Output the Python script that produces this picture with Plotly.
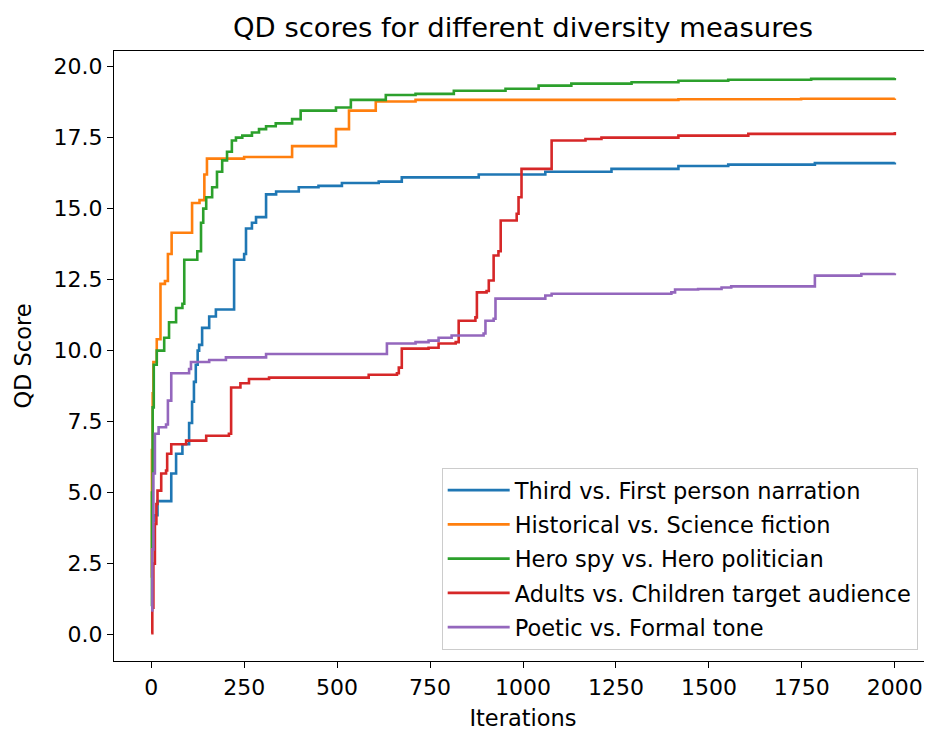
import plotly.graph_objects as go

# ---- data ----
series_names = [
    "Third vs. First person narration",
    "Historical vs. Science fiction",
    "Hero spy vs. Hero politician",
    "Adults vs. Children target audience",
    "Poetic vs. Formal tone",
]
colors = ["#1f77b4", "#ff7f0e", "#2ca02c", "#d62728", "#9467bd"]

third_iter = [0, 3, 8, 17, 54, 67, 84, 102, 110, 115, 120, 125, 129, 137, 156, 174,
              223, 250, 255, 271, 282, 309, 336, 397, 450, 513, 612, 674, 881, 1060,
              1238, 1418, 1552, 1785, 2000]
third_qd = [3.5, 4.0, 4.2, 4.7, 5.67, 6.37, 6.7, 7.45, 8.2, 8.9, 9.5, 10.0, 10.2, 10.8,
            11.2, 11.45, 13.2, 13.4, 14.3, 14.5, 14.7, 15.5, 15.6, 15.75, 15.8, 15.9,
            15.95, 16.1, 16.2, 16.3, 16.4, 16.5, 16.55, 16.6, 16.62]

hist_iter = [0, 2, 4, 6, 15, 25, 37, 45, 55, 110, 130, 143, 150, 250, 379, 497, 532,
             604, 711, 1418, 1748, 2000]
hist_qd = [2.0, 6.5, 8.5, 9.6, 10.4, 12.35, 12.45, 13.4, 14.15, 15.2, 15.3, 16.2, 16.76,
           16.82, 17.2, 17.8, 18.45, 18.77, 18.83, 18.85, 18.87, 18.88]

hero_iter = [0, 2, 4, 7, 15, 35, 48, 67, 84, 89, 124, 134, 140, 148, 164, 177, 191, 204,
             217, 228, 245, 271, 290, 309, 335, 379, 402, 497, 537, 631, 711, 814, 953,
             1042, 1130, 1292, 1418, 1552, 1775, 2000]
hero_qd = [1.0, 5.0, 8.0, 9.5, 10.0, 10.45, 11.0, 11.5, 11.65, 13.2, 13.5, 14.5, 15.0,
           15.4, 15.75, 16.3, 16.7, 17.0, 17.4, 17.5, 17.57, 17.68, 17.8, 17.9, 18.0,
           18.15, 18.45, 18.56, 18.83, 19.0, 19.04, 19.15, 19.22, 19.33, 19.4, 19.45,
           19.5, 19.54, 19.57, 19.6]

adult_iter = [0, 3, 6, 10, 14, 17, 27, 40, 43, 54, 94, 148, 209, 215, 240, 263, 317, 585,
              661, 666, 674, 746, 773, 819, 827, 872, 876, 902, 908, 921, 934, 940, 983,
              988, 996, 1077, 1168, 1211, 1418, 1606, 2000]
adult_qd = [0.05, 0.95, 2.5, 3.9, 4.6, 5.07, 5.67, 5.78, 6.37, 6.7, 6.83, 7.0, 7.07, 8.7,
            8.85, 9.0, 9.05, 9.15, 9.2, 9.4, 10.07, 10.1, 10.25, 10.3, 11.05, 11.17,
            12.05, 12.1, 12.47, 13.35, 13.5, 14.58, 14.82, 15.4, 16.4, 17.4, 17.45, 17.5,
            17.57, 17.63, 17.7]

poetic_iter = [0, 3, 6, 10, 20, 40, 45, 54, 102, 107, 156, 201, 309, 634, 711, 746, 773,
               808, 894, 899, 921, 926, 1060, 1077, 1399, 1409, 1471, 1534, 1560, 1785,
               1910, 2000]
poetic_qd = [0.85, 3.0, 5.67, 7.07, 7.3, 7.4, 8.24, 9.2, 9.35, 9.6, 9.67, 9.76, 9.88,
             10.25, 10.3, 10.35, 10.45, 10.53, 10.6, 11.05, 11.12, 11.83, 11.94, 12.0,
             12.05, 12.15, 12.17, 12.22, 12.26, 12.64, 12.7, 12.72]

x_ticks = [0, 250, 500, 750, 1000, 1250, 1500, 1750, 2000]
y_ticks = [0.0, 2.5, 5.0, 7.5, 10.0, 12.5, 15.0, 17.5, 20.0]
y_tick_labels = [f"{v:.1f}" for v in y_ticks]

all_iters = [third_iter, hist_iter, hero_iter, adult_iter, poetic_iter]
all_qd = [third_qd, hist_qd, hero_qd, adult_qd, poetic_qd]

FONT = "DejaVu Sans"
FS_TICK = 22
FS = 22.5
W, H = 924, 727

fig = go.Figure()
for i, (name, xs, ys) in enumerate(zip(series_names, all_iters, all_qd)):
    fig.add_trace(go.Scatter(
        x=xs, y=ys, mode="lines", name=name,
        line=dict(color=colors[i], width=2.6, shape="hv"),
        legendgroup=f"g{i}",
    ))

axis_common = dict(
    showline=True, linecolor="black", linewidth=1.4, mirror=True,
    ticks="outside", ticklen=6, tickwidth=1.4, tickcolor="black",
    showgrid=False, zeroline=False,
    tickfont=dict(family=FONT, size=FS_TICK, color="black"),
)

fig.update_layout(
    width=W, height=H, autosize=False,
    margin=dict(l=106, r=0, t=43, b=74),
    paper_bgcolor="white", plot_bgcolor="white",
    font=dict(family=FONT, color="black"),
    title=dict(text="QD scores for different diversity measures",
               font=dict(family=FONT, size=27.4, color="black"),
               x=0.5, xref="paper", xanchor="center",
               y=1 - 19 / H, yref="container", yanchor="middle"),
    xaxis=dict(range=[-100, 2100], tickvals=x_ticks,
               title=dict(text="Iterations", font=dict(family=FONT, size=FS), standoff=11),
               **axis_common),
    yaxis=dict(range=[-0.93, 20.55], tickvals=y_ticks, ticktext=y_tick_labels,
               title=dict(text="QD Score", font=dict(family=FONT, size=FS), standoff=15),
               **axis_common),
    legend=dict(
        x=0.9825, y=0.018, xanchor="right", yanchor="bottom",
        bgcolor="rgba(255,255,255,0.8)", bordercolor="#cccccc", borderwidth=1,
        font=dict(family=FONT, size=FS, color="black"),
        tracegroupgap=2, itemwidth=62,
    ),
    showlegend=True,
)

fig.write_html("out.html")
